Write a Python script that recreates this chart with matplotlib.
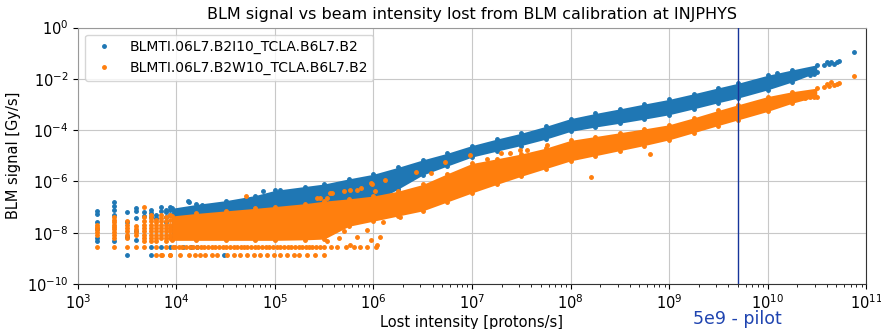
#!/usr/bin/env python3
"""BLM signal vs lost beam intensity (BLM calibration at INJPHYS)."""
import numpy as np
import matplotlib
matplotlib.use("Agg")
import matplotlib.pyplot as plt
from matplotlib.ticker import LogLocator, NullLocator
from matplotlib.transforms import blended_transform_factory

BLUE = "#1f77b4"
ORANGE = "#ff7f0e"
LABEL_I = "BLMTI.06L7.B2I10_TCLA.B6L7.B2"
LABEL_W = "BLMTI.06L7.B2W10_TCLA.B6L7.B2"
PILOT = 5e9

BAND_LOGX = [3.95, 4.2, 4.5, 4.8, 5.0, 5.3, 5.5, 5.75, 6.0, 6.25, 6.5, 6.75, 7.0,
             7.25, 7.5, 7.75, 8.0, 8.25, 8.5, 8.75, 9.0, 9.25, 9.5, 9.7, 10.0, 10.25, 10.5]
I10_HI = [-7.05, -6.9, -6.75, -6.55, -6.35, -6.2, -6.1, -5.9, -5.72, -5.45, -5.16, -4.9, -4.6,
          -4.35, -4.12, -3.85, -3.55, -3.35, -3.17, -2.98, -2.8, -2.58, -2.35, -2.17, -1.86, -1.65, -1.45]
I10_LO = [-8.25, -8.25, -8.25, -8.25, -8.25, -8.2, -8.1, -7.5, -6.8, -6.3, -5.75, -5.4, -5.05,
          -4.82, -4.6, -4.35, -4.05, -3.88, -3.73, -3.57, -3.4, -3.17, -2.93, -2.75, -2.43, -2.12, -1.75]
W10_HI = [-7.35, -7.25, -7.15, -7.05, -6.98, -6.87, -6.77, -6.68, -6.57, -6.38, -6.12, -5.7, -5.3,
          -5.12, -4.93, -4.7, -4.4, -4.25, -4.1, -3.95, -3.79, -3.52, -3.23, -3.01, -2.69, -2.5, -2.36]
W10_LO = [-8.3, -8.3, -8.3, -8.3, -8.3, -8.28, -8.25, -7.75, -7.55, -7.35, -7.15, -6.8, -6.45,
          -6.12, -5.8, -5.5, -5.2, -5.0, -4.8, -4.6, -4.38, -4.1, -3.82, -3.6, -3.27, -2.95, -2.69]

# quantised low-intensity columns (protons/s) and their log10 signal values
COL_X = [1560, 2340, 3120, 3900, 4680, 5460, 6240, 7020, 7800, 8580]
I10_COL_LOGY = [
    [-7.16, -7.28, -7.6, -7.85, -8.21, -8.34],
    [-6.81, -6.95, -7.11, -7.3, -8.34],
    [-7.2, -7.6, -8.15, -8.86],
    [-7.05, -7.17, -7.43, -7.95, -8.27],
    [-7.2, -7.35],
    [-7.11, -7.25, -7.4, -8.56, -8.86],
    [-7.3, -7.43],
    [-7.0, -7.17, -8.56],
    [-7.1, -7.2, -7.4, -7.6],
    [-6.98, -7.1, -7.3, -8.56],
]
W10_COL_LOGY = [
    [-7.69, -7.78, -7.87, -7.97, -8.08, -8.56],
    [-7.4, -7.5, -7.6, -7.69, -7.78, -7.87, -7.97, -8.08, -8.21, -8.56],
    [-7.56, -7.69, -7.82, -7.95, -8.08, -8.21, -8.56],
    [-7.75, -7.87, -7.97, -8.08, -8.56],
    [-6.98, -7.4, -7.56, -7.69, -7.82, -7.95, -8.08, -8.21, -8.34, -8.56],
    [-7.3, -7.43, -7.56, -7.69, -7.82, -7.95, -8.08, -8.21, -8.34],
    [-7.5, -7.6, -7.69, -7.82, -7.95, -8.08, -8.21, -8.34, -8.56, -8.86],
    [-7.3, -7.43, -7.56, -7.69, -7.82, -7.95, -8.08, -8.21, -8.86],
    [-7.4, -7.56, -7.69, -7.82, -7.95, -8.08, -8.21, -8.34, -8.56],
    [-7.3, -7.5, -7.69, -7.82, -7.95, -8.08, -8.21, -8.86],
]

# the two lowest signal levels show up as dotted rows under the W10 cloud
ROW_LO_LOGY = -8.87
ROW_LO_LOGX = [3.852, 3.937, 4.039, 4.123, 4.191, 4.241, 4.292, 4.36, 4.411, 4.512, 4.58,
               4.648, 4.715, 4.783, 4.851, 4.918, 4.986, 5.054, 5.122, 5.19, 5.24, 5.325,
               5.41, 5.494]
ROW_MID_LOGY = -8.57
ROW_MID_LOGX = [3.96, 3.99, 4.03, 4.06, 4.1, 4.14, 4.17, 4.21, 4.25, 4.28, 4.32, 4.36, 4.39,
                4.43, 4.47, 4.5, 4.54, 4.58, 4.61, 4.65, 4.69, 4.72, 4.76, 4.8, 4.83, 4.87,
                4.91, 4.94, 4.98, 5.02, 5.05, 5.09, 5.13, 5.16, 5.2, 5.24, 5.27, 5.31, 5.35,
                5.38, 5.42, 5.46, 5.5, 5.57, 5.63, 5.72, 5.8, 5.86, 5.93, 6.03]

# loose points outside the dense clouds (log10 x, log10 y)
I10_EXTRA_LOGX = [4.13, 4.12, 4.26, 4.88, 5.05, 8.17, 10.1, 10.38, 10.43, 10.47,
                  10.57, 10.6, 10.62, 10.64, 10.67, 10.71, 10.73, 10.88,
                  4.48, 4.07, 4.15, 4.21]
I10_EXTRA_LOGY = [-6.81, -6.78, -6.91, -6.39, -6.33, -3.53, -1.78, -1.8, -1.84, -1.8,
                  -1.45, -1.36, -1.42, -1.33, -1.42, -1.36, -1.31, -0.96,
                  -8.87, -8.57, -8.57, -8.57]
W10_EXTRA_LOGX = [4.71, 5.43, 5.46, 5.53, 5.56, 5.58, 5.7, 5.76, 5.83, 5.87, 5.97, 5.98,
                  6.02, 6.12, 6.43, 6.58, 6.73, 6.98, 7.15, 7.29, 7.39, 7.49, 7.56, 7.76,
                  5.53, 5.65, 5.7, 5.76, 5.83, 5.93, 5.97, 6.04, 6.07, 6.1, 6.27,
                  8.21, 8.81, 10.38, 10.43, 10.47,
                  10.57, 10.6, 10.62, 10.64, 10.67, 10.71, 10.73, 10.88]
W10_EXTRA_LOGY = [-6.56, -6.65, -6.65, -6.65, -6.46, -6.46, -6.39, -6.33, -6.33, -6.26, -6.07, -6.09,
                  -6.39, -5.93, -5.62, -5.67, -5.25, -4.96, -5.12, -4.9, -4.9, -4.77, -4.77, -4.57,
                  -8.34, -8.21, -7.95, -8.47, -8.15, -7.89, -8.28, -8.47, -8.15, -7.6, -7.37,
                  -5.83, -4.94, -2.75, -2.72, -2.7,
                  -2.3, -2.19, -2.27, -2.14, -2.23, -2.19, -2.17, -1.87]


def draw_series(ax, color, label, hi, lo, col_logy, extra_x, extra_y, z):
    bx = 10 ** np.array(BAND_LOGX)
    ax.fill_between(bx, 10 ** np.array(lo), 10 ** np.array(hi), color=color, lw=0, zorder=z)
    ax.plot(bx, 10 ** np.array(hi), ".", color=color, ms=5, zorder=z, label=label)
    ax.plot(bx, 10 ** np.array(lo), ".", color=color, ms=5, zorder=z)
    for x, ys in zip(COL_X, col_logy):
        ax.plot([x] * len(ys), 10 ** np.array(ys), ".", color=color, ms=5, zorder=z)
    ax.plot(10 ** np.array(extra_x), 10 ** np.array(extra_y), ".", color=color, ms=5, zorder=z)


def main():
    fig = plt.figure(figsize=(8.81, 3.29), dpi=100)
    ax = fig.add_axes([0.0885, 0.137, 0.8945, 0.779])

    draw_series(ax, BLUE, LABEL_I, I10_HI, I10_LO, I10_COL_LOGY,
                I10_EXTRA_LOGX, I10_EXTRA_LOGY, 2)
    draw_series(ax, ORANGE, LABEL_W, W10_HI, W10_LO, W10_COL_LOGY,
                W10_EXTRA_LOGX, W10_EXTRA_LOGY, 3)
    ax.plot(10 ** np.array(ROW_LO_LOGX), [10 ** ROW_LO_LOGY] * len(ROW_LO_LOGX), ".",
            color=ORANGE, ms=5, zorder=3)
    ax.plot(10 ** np.array(ROW_MID_LOGX), [10 ** ROW_MID_LOGY] * len(ROW_MID_LOGX), ".",
            color=ORANGE, ms=5, zorder=3)

    ax.axvline(PILOT, color="#16349a", lw=1.0, zorder=4)
    trans = blended_transform_factory(ax.transData, ax.transAxes)
    ax.text(PILOT, -0.158, "5e9 - pilot", transform=trans, ha="center", va="baseline",
            fontsize=12.5, color="#1f44b0")

    ax.set_xscale("log")
    ax.set_yscale("log")
    ax.set_xlim(1e3, 1e11)
    ax.set_ylim(1e-10, 1)
    ax.set_xticks([10.0 ** k for k in range(3, 12)])
    ax.xaxis.set_minor_locator(LogLocator(base=10, subs=np.arange(2, 10), numticks=100))
    ax.set_yticks([10.0 ** k for k in range(-10, 1, 2)])
    ax.yaxis.set_minor_locator(NullLocator())
    ax.tick_params(labelsize=10.5)
    ax.grid(True, color="#c8c8c8", lw=0.8)
    ax.set_axisbelow(True)
    for side, col in (("left", "#999999"), ("top", "#999999"),
                      ("bottom", "#333333"), ("right", "#333333")):
        ax.spines[side].set_color(col)

    ax.set_xlabel("Lost intensity [protons/s]", fontsize=10.5, labelpad=2)
    ax.set_ylabel("BLM signal [Gy/s]", fontsize=10.5)
    ax.set_title("BLM signal vs beam intensity lost from BLM calibration at INJPHYS", fontsize=11.5)
    ax.legend(loc="upper left", fontsize=10)

    fig.savefig("out.png", dpi=100)


if __name__ == "__main__":
    main()
